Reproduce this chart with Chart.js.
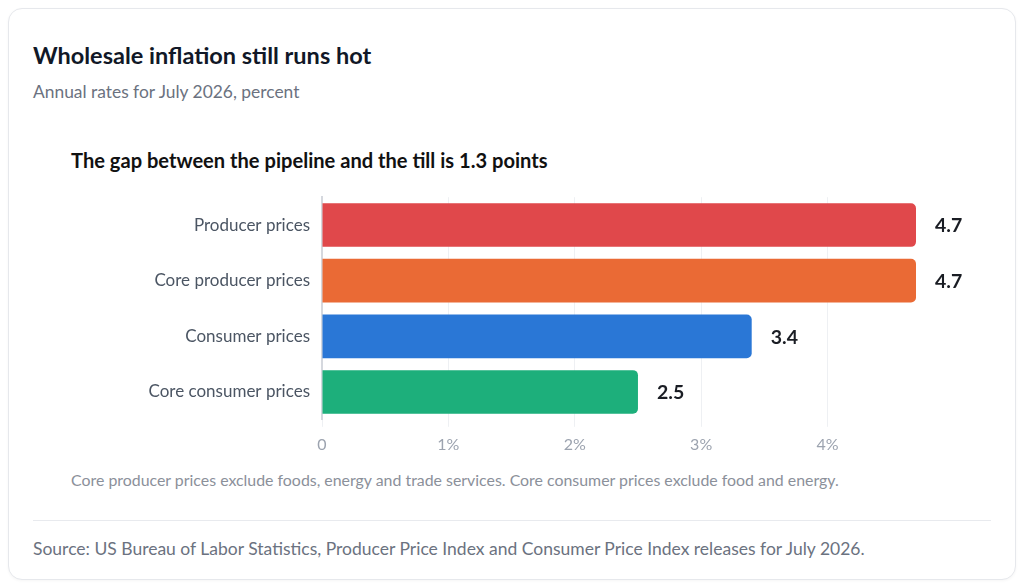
<!DOCTYPE html>
<html>
<head>
<meta charset="utf-8">
<script src="https://cdn.jsdelivr.net/npm/chart.js@4.4.1/dist/chart.umd.min.js"></script>
<style>
  html, body { margin: 0; padding: 0; background: #ffffff; }
  body { width: 1024px; height: 586px; position: relative; overflow: hidden; font-family: Lato, "Noto Sans", sans-serif; }
  .card { position: absolute; left: 8px; top: 8px; width: 1006px; height: 570px; border: 1px solid #e6e8ec; border-radius: 14px; background: #fff; box-shadow: 0 1px 3px rgba(0,0,0,0.04); }
  .t { position: absolute; white-space: nowrap; line-height: 1.2; }
  #title { left: 33px; top: 41px; font-size: 23.5px; font-weight: 700; color: #111827; }
  #subtitle { left: 33px; top: 82px; font-size: 17.4px; color: #6b7280; }
  #ctitle { left: 71px; top: 148px; font-size: 20.1px; font-weight: 700; color: #111111; }
  #note { left: 71px; top: 470px; font-size: 15.9px; color: #8b909a; }
  #rule { position: absolute; left: 33px; top: 520px; width: 958px; height: 1px; background: #e8eaee; }
  #source { left: 33px; top: 538px; font-size: 17.5px; color: #6b7280; }
  #wrap { position: absolute; left: 71px; top: 175px; width: 920px; height: 287px; }
</style>
</head>
<body>
<div class="card"></div>
<div class="t" id="title">Wholesale inflation still runs hot</div>
<div class="t" id="subtitle">Annual rates for July 2026, percent</div>
<div class="t" id="ctitle">The gap between the pipeline and the till is 1.3 points</div>
<div id="wrap"><canvas id="c"></canvas></div>
<div class="t" id="note">Core producer prices exclude foods, energy and trade services. Core consumer prices exclude food and energy.</div>
<div id="rule"></div>
<div class="t" id="source">Source: US Bureau of Labor Statistics, Producer Price Index and Consumer Price Index releases for July 2026.</div>
<script>
const categories = ["Producer prices", "Core producer prices", "Consumer prices", "Core consumer prices"];
const values = [4.7, 4.7, 3.4, 2.5];
const valueLabels = ["4.7", "4.7", "3.4", "2.5"];
const barColors = ["#e0484b", "#ea6a35", "#2a77d6", "#1daf7b"];
const tickValues = [0, 1, 2, 3, 4];

const valueLabelPlugin = {
  id: 'valueLabels',
  afterDatasetsDraw(chart) {
    const ctx = chart.ctx;
    const meta = chart.getDatasetMeta(0);
    ctx.save();
    ctx.font = '700 19.5px Lato, "Noto Sans", sans-serif';
    ctx.fillStyle = '#1a1d24';
    ctx.textAlign = 'left';
    ctx.textBaseline = 'middle';
    meta.data.forEach((bar, i) => {
      ctx.fillText(valueLabels[i], bar.x + 19, bar.y + 1);
    });
    ctx.restore();
  }
};

new Chart(document.getElementById('c'), {
  type: 'bar',
  data: {
    labels: categories,
    datasets: [{
      data: values,
      backgroundColor: barColors,
      borderWidth: 0,
      borderRadius: 5,
      borderSkipped: 'start',
      categoryPercentage: 0.785,
      barPercentage: 1
    }]
  },
  options: {
    indexAxis: 'y',
    responsive: true,
    maintainAspectRatio: false,
    animation: false,
    layout: { padding: { top: 0, right: 75, bottom: 0, left: 0 } },
    plugins: { legend: { display: false }, tooltip: { enabled: false } },
    scales: {
      x: {
        min: 0,
        max: Math.max(...values),
        afterBuildTicks(scale) {
          scale.ticks = tickValues.map(v => ({ value: v }));
        },
        grid: { color: '#eef0f3', lineWidth: 1, drawTicks: true, tickLength: 7 },
        border: { display: false },
        ticks: {
          padding: 8,
          color: '#9ca3af',
          font: { family: 'Lato, "Noto Sans", sans-serif', size: 16 },
          callback: (v) => v === 0 ? '0' : v + '%'
        }
      },
      y: {
        afterFit(scale) { scale.width = 251; },
        grid: { display: false, drawTicks: false },
        border: { display: true, color: '#d5d8de', width: 2 },
        ticks: {
          padding: 12,
          color: '#4b5563',
          font: { family: 'Lato, "Noto Sans", sans-serif', size: 17 }
        }
      }
    }
  },
  plugins: [valueLabelPlugin]
});
</script>
</body>
</html>
